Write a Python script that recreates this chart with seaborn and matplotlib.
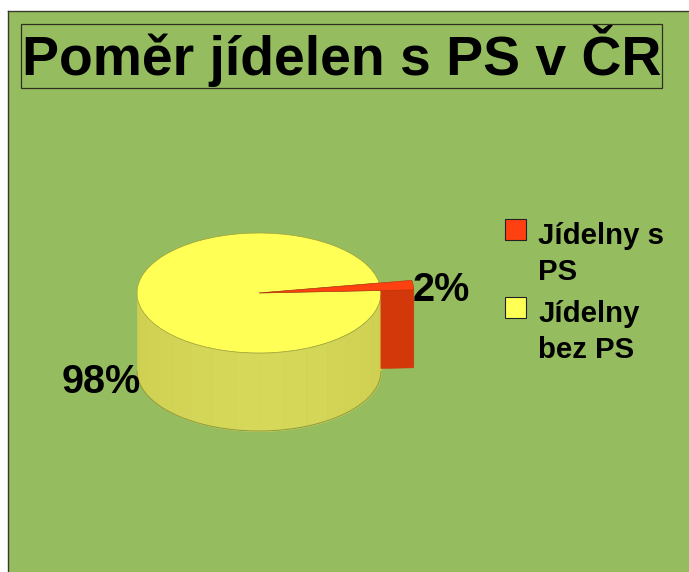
import numpy as np
import matplotlib
matplotlib.use("Agg")
import matplotlib.pyplot as plt
from matplotlib.patches import Rectangle
from matplotlib.legend_handler import HandlerPatch
import seaborn as sns

TITLE = "Poměr jídelen s PS v ČR"
series_labels = ["Jídelny s\nPS", "Jídelny\nbez PS"]
shares = [2, 98]
GREEN = "#95BD5F"
ORANGE, YELLOW = "#FF4010", "#FFFF55"
ORANGE_WALL = "#D2380A"
EDGE = "#2F2F20"

sns.set_theme(style="white")
plt.rcParams["font.family"] = ["Liberation Sans", "DejaVu Sans"]
plt.rcParams["font.weight"] = "bold"

W, H = 689, 572
fig = plt.figure(figsize=(W / 100, H / 100), dpi=100, facecolor="white")
left_px, top_px = 8.0, 11.0
ax = fig.add_axes([left_px / W, 0, 1 - left_px / W, 1 - top_px / H])

# one data unit = pie radius; ellipse of 122 x 60 px centred at (259, 293)
cx, cy, rx, ry = 259, 293, 122, 60
depth = 78 / ry
start = 2.4
explode_r = 1.27

# side wall of the yellow slice
th_edges = np.linspace(np.pi, 2 * np.pi, 17)
shades = sns.blend_palette(["#CFCF52", "#D7D95A", "#CFCF52"], 16)
for i in range(16):
    th = np.linspace(th_edges[i], th_edges[i + 1], 12)
    ax.fill_between(np.cos(th), np.sin(th), np.sin(th) - depth,
                    color=shades[i], lw=0.4, zorder=1)
th = np.linspace(np.pi, 2 * np.pi, 200)
ax.plot(np.cos(th), np.sin(th) - depth, color="#8E9A3E", lw=0.7, zorder=1.5)

# yellow top
ax.pie([shares[1] / 100], startangle=start + shares[0] * 3.6, radius=1,
       colors=[YELLOW], normalize=False,
       wedgeprops=dict(edgecolor="#A0A038", linewidth=0.5, zorder=2))

# orange cut face
a = np.deg2rad(start)
xs = [np.cos(a), explode_r * np.cos(a), explode_r * np.cos(a), np.cos(a)]
ys = [np.sin(a), np.sin(a) * explode_r, np.sin(a) * explode_r - depth, np.sin(a) - depth]
ax.fill(xs, ys, color=ORANGE_WALL, lw=0.4, zorder=3)

# orange top
ax.pie([shares[0] / 100], startangle=start, radius=explode_r,
       colors=[ORANGE], normalize=False,
       wedgeprops=dict(edgecolor="#B03008", linewidth=0.4, zorder=4))

ax.set_aspect("auto")
ax.set_frame_on(True)
ax.set_facecolor(GREEN)
ax.set_xlim((left_px - cx) / rx, (W - cx) / rx)
ax.set_ylim((cy - H) / ry, (cy - top_px) / ry)
ax.set_xticks([]); ax.set_yticks([])
for s in ["right", "bottom"]:
    ax.spines[s].set_visible(False)
for s in ["top", "left"]:
    ax.spines[s].set_color("#3A3A2A")
    ax.spines[s].set_linewidth(1.0)

def px(x, y):
    return x / W, 1 - y / H

# percent labels
fig.text(*px(413, 301), f"{shares[0]}%", fontsize=28.5, fontweight="bold",
         color="black", ha="left", va="baseline")
fig.text(*px(62, 393), f"{shares[1]}%", fontsize=28.5, fontweight="bold",
         color="black", ha="left", va="baseline")

# title
fig.add_artist(Rectangle(px(21, 88), 641 / W, 64 / H, transform=fig.transFigure,
                         fill=False, edgecolor=EDGE, lw=0.9))
fig.text(*px(341.5, 75), TITLE, fontsize=39.9, fontweight="bold", color="black",
         ha="center", va="baseline")

# legend: swatches sit next to the first line of each label
class TopHandler(HandlerPatch):
    def __init__(self, lift):
        super().__init__()
        self.lift = lift
    def _create_patch(self, legend, orig_handle, xdescent, ydescent,
                      width, height, fontsize):
        return Rectangle((-xdescent, -ydescent + self.lift), width, height)

handles = [Rectangle((0, 0), 1, 1, facecolor=c, edgecolor="#222222", lw=0.8)
           for c in [ORANGE, YELLOW]]
leg = fig.legend(handles, series_labels, loc="upper left",
                 bbox_to_anchor=px(505, 222.5), bbox_transform=fig.transFigure,
                 frameon=False, fontsize=21.2, labelcolor="black",
                 borderpad=0, borderaxespad=0,
                 handlelength=0.72, handleheight=0.72, handletextpad=0.41,
                 labelspacing=0.5,
                 handler_map={Rectangle: TopHandler(18.5)})
for t in leg.get_texts():
    t.set_linespacing(1.33)

fig.savefig("out.png", dpi=100, facecolor="white")
